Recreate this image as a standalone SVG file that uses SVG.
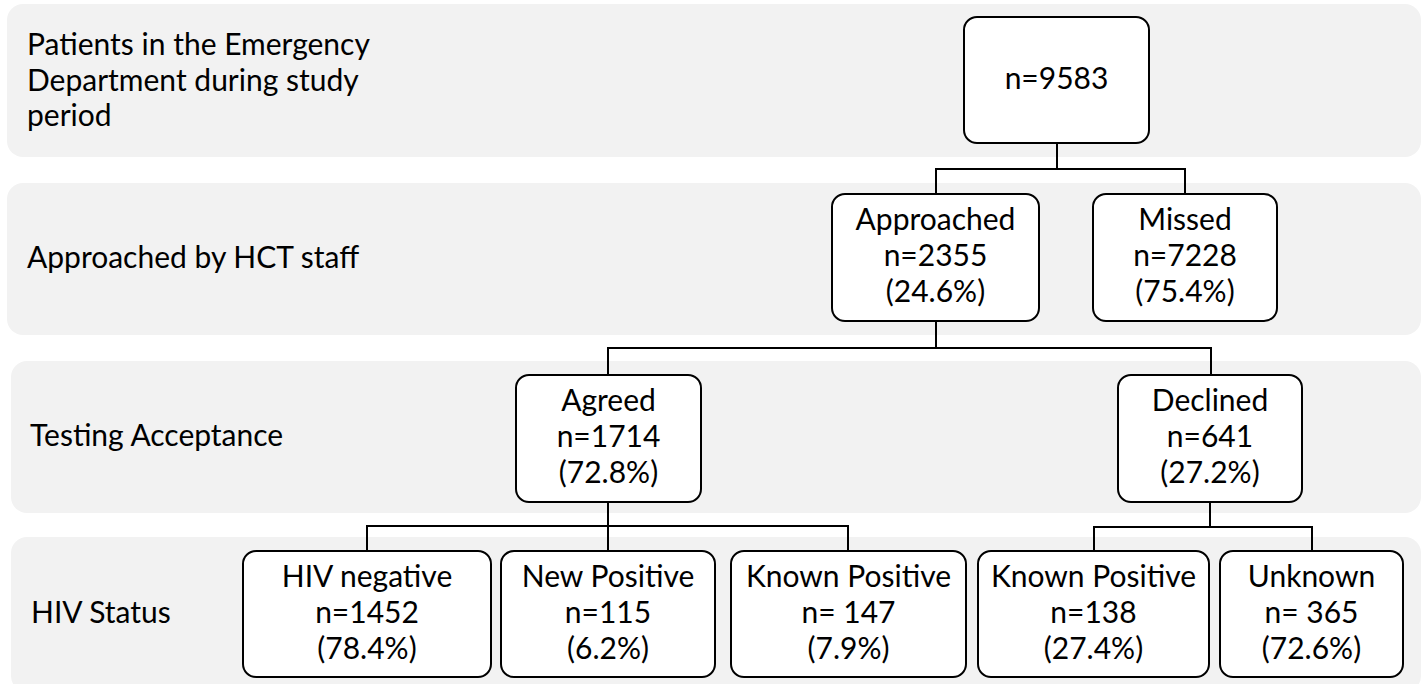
<svg xmlns="http://www.w3.org/2000/svg" width="1426" height="684" viewBox="0 0 1426 684">
<style>
.band{fill:#f2f2f2;stroke:none}
.node rect{fill:#ffffff;stroke:#000;stroke-width:2}
text{font-family:Lato,"Open Sans","Liberation Sans",sans-serif;font-size:30px;fill:#000}
.node text{text-anchor:middle}
.conn path{fill:none;stroke:#000;stroke-width:2}
</style>
<rect width="1426" height="684" fill="#ffffff"/>
<g id="bands">
<rect class="band" x="7" y="4" width="1414" height="153" rx="16"/>
<rect class="band" x="7" y="183" width="1414" height="152" rx="16"/>
<rect class="band" x="11" y="361" width="1410" height="152" rx="16"/>
<rect class="band" x="11" y="537" width="1410" height="155" rx="16"/>
</g>
<g id="row-labels">
<text x="27" y="55">Patients in the Emergency</text>
<text x="27" y="91">Department during study</text>
<text x="27" y="126">period</text>
<text x="27" y="268">Approached by HCT staff</text>
<text x="30" y="446">Testing Acceptance</text>
<text x="31" y="623">HIV Status</text>
</g>
<g id="connectors" class="conn">
<path d="M1057,143 V169 M936,194 V169 H1185 V194"/>
<path d="M936,321 V348 M608,375 V348 H1211 V375"/>
<path d="M608,502 V551 M367,551 V526 H848 V551"/>
<path d="M1210,502 V527 M1094,551 V527 H1312 V551"/>
</g>
<g id="n-total" class="node">
<rect x="964" y="17" width="185" height="126" rx="13"/>
<text x="1056.5" y="89">n=9583</text>
</g>
<g id="n-approached" class="node">
<rect x="832" y="194" width="207" height="127" rx="13"/>
<text x="935.5" y="230">Approached</text>
<text x="935.5" y="266">n=2355</text>
<text x="935.5" y="302">(24.6%)</text>
</g>
<g id="n-missed" class="node">
<rect x="1093" y="194" width="184" height="127" rx="13"/>
<text x="1185" y="230">Missed</text>
<text x="1185" y="266">n=7228</text>
<text x="1185" y="302">(75.4%)</text>
</g>
<g id="n-agreed" class="node">
<rect x="516" y="375" width="185" height="127" rx="13"/>
<text x="608.5" y="411">Agreed</text>
<text x="608.5" y="447">n=1714</text>
<text x="608.5" y="483">(72.8%)</text>
</g>
<g id="n-declined" class="node">
<rect x="1118" y="375" width="184" height="127" rx="13"/>
<text x="1210" y="411">Declined</text>
<text x="1210" y="447">n=641</text>
<text x="1210" y="483">(27.2%)</text>
</g>
<g id="n-hivneg" class="node">
<rect x="243" y="551" width="248" height="126" rx="13"/>
<text x="367" y="587">HIV negative</text>
<text x="367" y="623">n=1452</text>
<text x="367" y="659">(78.4%)</text>
</g>
<g id="n-newpos" class="node">
<rect x="501" y="551" width="214" height="126" rx="13"/>
<text x="608" y="587">New Positive</text>
<text x="608" y="623">n=115</text>
<text x="608" y="659">(6.2%)</text>
</g>
<g id="n-knownpos-agreed" class="node">
<rect x="731" y="551" width="235" height="126" rx="13"/>
<text x="848.5" y="587">Known Positive</text>
<text x="848.5" y="623">n= 147</text>
<text x="848.5" y="659">(7.9%)</text>
</g>
<g id="n-knownpos-declined" class="node">
<rect x="978" y="551" width="231" height="126" rx="13"/>
<text x="1093.5" y="587">Known Positive</text>
<text x="1093.5" y="623">n=138</text>
<text x="1093.5" y="659">(27.4%)</text>
</g>
<g id="n-unknown" class="node">
<rect x="1220" y="551" width="183" height="126" rx="13"/>
<text x="1311.5" y="587">Unknown</text>
<text x="1311.5" y="623">n= 365</text>
<text x="1311.5" y="659">(72.6%)</text>
</g>
</svg>
